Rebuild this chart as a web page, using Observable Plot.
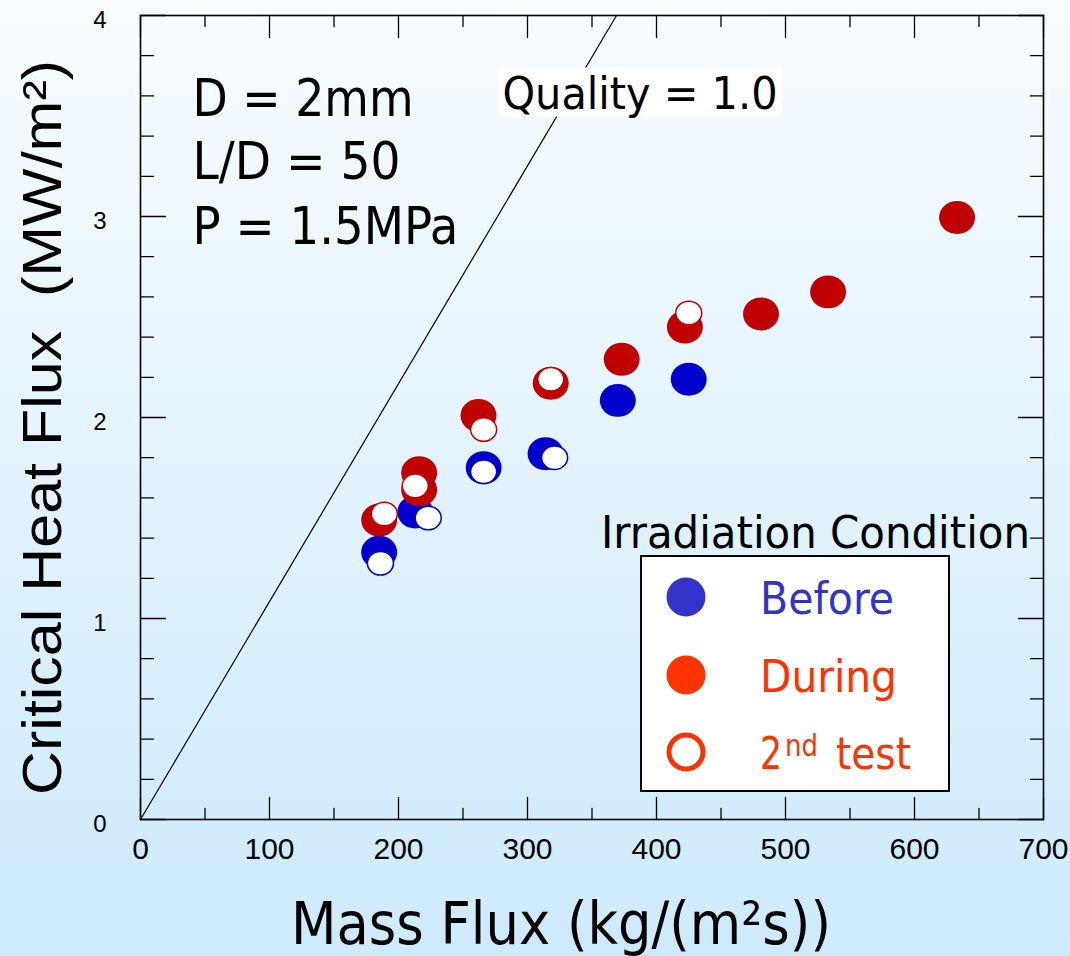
<!DOCTYPE html>
<html><head><meta charset="utf-8">
<script src="https://cdn.jsdelivr.net/npm/d3@7"></script>
<script src="https://cdn.jsdelivr.net/npm/@observablehq/plot@0.6"></script>
<style>
html,body{margin:0;padding:0;}
body{width:1070px;height:956px;background:linear-gradient(to bottom,#f8fcff 0%,#cdeafc 100%);overflow:hidden;}
#chart{position:relative;width:1070px;height:956px;}
</style></head><body><div id="chart"></div>
<script>
// ---- data ----
const beforeMass = [185, 213, 266, 314, 370, 425];
const beforeCHF  = [1.33, 1.53, 1.75, 1.82, 2.085, 2.19];
const before2Mass = [186, 223, 266, 321];
const before2CHF  = [1.275, 1.50, 1.73, 1.80];
const duringMass = [185, 216, 216, 262, 318, 373, 422, 481, 533, 633];
const duringCHF  = [1.49, 1.725, 1.64, 2.01, 2.17, 2.29, 2.45, 2.515, 2.625, 2.995];
const during2Mass = [189, 213, 266, 318, 425];
const during2CHF  = [1.52, 1.66, 1.94, 2.19, 2.52];
const qualityMass = [0, 369];
const qualityCHF  = [0, 4];
const xTicks = [0, 100, 200, 300, 400, 500, 600, 700];
const yTicks = [0, 1, 2, 3, 4];
const annLines = ["D = 2mm", "L/D = 50", "P = 1.5MPa"];
const qualityLabel = "Quality = 1.0";
const xTitle = "Mass Flux (kg/(m\u00b2s))";
const yTitle = "Critical Heat Flux  (MW/m\u00b2)";
const legendTitle = "Irradiation Condition";
const legendItems = ["Before", "During", "2nd test"];

// ---- style ----
const cBefore = "#0000cc", cDuring = "#c00000";
const lgBefore = "#3333cc", lgDuring = "#ff3300";
const tahoma = "'DejaVu Sans Condensed','DejaVu Sans',sans-serif";
const arial = "'Liberation Sans',Arial,sans-serif";
const narrow = "'Liberation Sans Narrow','Liberation Sans',Arial,sans-serif";

const ellipse = (ax) => ({draw(ctx, size){
  const r = Math.sqrt(size/Math.PI), rx = r*ax, ry = r/ax, k = 0.5523;
  ctx.moveTo(rx,0);
  ctx.bezierCurveTo(rx,k*ry,k*rx,ry,0,ry);
  ctx.bezierCurveTo(-k*rx,ry,-rx,k*ry,-rx,0);
  ctx.bezierCurveTo(-rx,-k*ry,-k*rx,-ry,0,-ry);
  ctx.bezierCurveTo(k*rx,-ry,rx,-k*ry,rx,0);
  ctx.closePath();
}});
const tickShape = {draw(ctx, l){ ctx.moveTo(0,0); ctx.lineTo(0,-l); }};

const xMinor = d3.range(50, 700, 100);
const yMinor = d3.range(0, 4.001, 0.2).filter(v => Math.abs(v - Math.round(v)) > 1e-6);

const tk = {anchor:"start", shape: tickShape, stroke:"black", strokeWidth:1.3};
const ticks = [
  Plot.vectorX(xTicks, {...tk, frameAnchor:"bottom", length:22, rotate:0}),
  Plot.vectorX(xMinor, {...tk, frameAnchor:"bottom", length:11, rotate:0}),
  Plot.vectorX(xTicks, {...tk, frameAnchor:"top", length:22, rotate:180}),
  Plot.vectorX(xMinor, {...tk, frameAnchor:"top", length:11, rotate:180}),
  Plot.vectorY(yTicks, {...tk, frameAnchor:"left", length:25, rotate:90}),
  Plot.vectorY(yMinor, {...tk, frameAnchor:"left", length:13, rotate:90}),
  Plot.vectorY(yTicks, {...tk, frameAnchor:"right", length:25, rotate:-90}),
  Plot.vectorY(yMinor, {...tk, frameAnchor:"right", length:13, rotate:-90})
];

const annMarks = annLines.map((t, i) => Plot.text([t], {
  text: d => d, frameAnchor:"top-left", dx:52, dy:100 + [0,63,128][i],
  textAnchor:"start", lineAnchor:"bottom", fontSize:51, fontFamily:tahoma, fill:"black"
}));

const plot = Plot.plot({
  width: 1070, height: 956,
  marginLeft: 140, marginRight: 27, marginTop: 15, marginBottom: 137,
  style: {background: "transparent", overflow: "visible"},
  x: {domain: [0, 700]},
  y: {domain: [0, 4]},
  marks: [
    Plot.line(qualityMass, {x: qualityMass, y: qualityCHF, stroke:"black", strokeWidth:1.2}),
    Plot.text([qualityLabel], {text: d => d, frameAnchor:"top-left", dx:362, dy:93,
      textAnchor:"start", lineAnchor:"bottom", fontSize:45, fontFamily:tahoma, fill:"black"}),
    ...annMarks,
    Plot.dot(beforeMass, {x: beforeMass, y: beforeCHF, r:17.2, symbol: ellipse(1.045), fill: cBefore}),
    Plot.dot(duringMass, {x: duringMass, y: duringCHF, r:17.2, symbol: ellipse(1.045), fill: cDuring}),
    Plot.dot(before2Mass, {x: before2Mass, y: before2CHF, r:12.4, symbol: ellipse(1.05), fill:"white", stroke: cBefore, strokeWidth:1.5}),
    Plot.dot(during2Mass, {x: during2Mass, y: during2CHF, r:12.4, symbol: ellipse(1.05), fill:"white", stroke: cDuring, strokeWidth:1.5}),
    Plot.frame({stroke:"black", strokeWidth:1.6}),
    ...ticks,
    Plot.axisX(xTicks, {anchor:"bottom", tickSize:0, tickPadding:18, fontSize:30, fontFamily:arial, fill:"black", label:null, tickFormat: d3.format("d")}),
    Plot.axisY(yTicks, {anchor:"left", tickSize:0, tickPadding:34, fontSize:24, fontFamily:arial, fill:"black", dy:5, label:null, tickFormat: d3.format("d")}),
    Plot.text([yTitle], {text: d => d, frameAnchor:"left", dx:-80, dy:10, rotate:-90,
      textAnchor:"middle", lineAnchor:"bottom", fontSize:55, fontFamily:narrow, fill:"black"}),
    Plot.text([xTitle], {text: d => d, frameAnchor:"bottom", dx:-31, dy:124,
      textAnchor:"middle", lineAnchor:"bottom", fontSize:59, fontFamily:tahoma, fill:"black"})
  ]
});
document.getElementById("chart").appendChild(plot);

const svg = d3.select(plot);
// fit a text element's drawn length to a target, correcting iteratively
function fitNode(node, len){
  if (!node) return;
  const s = d3.select(node).style("white-space", "pre").attr("lengthAdjust", "spacingAndGlyphs").attr("textLength", len);
  for (let k = 0; k < 3; k++) {
    const w = node.getBBox().width;
    if (!w || Math.abs(w - len) < 0.5) break;
    const cur = +s.attr("textLength");
    s.attr("textLength", cur * len / w);
  }
}
const findText = (content) => svg.selectAll("text").filter(function(){ return this.textContent === content; }).node();
function fit(content, len){ fitNode(findText(content), len); }
fit(annLines[0], 221); fit(annLines[1], 208); fit(annLines[2], 266);
fit(qualityLabel, 275); fit(yTitle, 735); fit(xTitle, 540);

// white box behind "Quality = 1.0"
const qNode = findText(qualityLabel);
if (qNode) {
  const bb = qNode.getBBox();
  const tr = qNode.getAttribute("transform");
  d3.select(qNode.parentNode).insert("rect", "text").attr("transform", tr)
    .attr("x", bb.x - 4).attr("y", bb.y + 1).attr("width", bb.width + 8).attr("height", bb.height - 4)
    .attr("fill", "white").attr("stroke", "none");
}

// legend
const lg = svg.append("g").attr("class", "legend").attr("text-anchor", "start");
const lt = (x, y, t, fs, col, len) => {
  const n = lg.append("text").attr("x", x).attr("y", y).text(t)
    .attr("font-size", fs).attr("font-family", tahoma).attr("fill", col).attr("text-anchor", "start");
  fitNode(n.node(), len);
  return n;
};
lt(601, 548, legendTitle, 45, "black", 429);
lg.append("rect").attr("x", 641).attr("y", 556).attr("width", 308).attr("height", 235)
  .attr("fill", "white").attr("stroke", "black").attr("stroke-width", 2);
const rowY = [597, 675, 752];
lg.append("circle").attr("cx", 686).attr("cy", rowY[0]).attr("r", 19.5).attr("fill", lgBefore);
lg.append("circle").attr("cx", 686).attr("cy", rowY[1]).attr("r", 19.5).attr("fill", lgDuring);
lg.append("circle").attr("cx", 686).attr("cy", rowY[2]).attr("r", 17).attr("fill", "white").attr("stroke", lgDuring).attr("stroke-width", 5);
lt(760, 614, legendItems[0], 45, lgBefore, 134);
lt(760, 692, legendItems[1], 45, lgDuring, 137);
const sup0 = legendItems[2].slice(0, 1), supRest = legendItems[2].slice(1).split(" ");
lt(760, 769, sup0, 45, lgDuring, 22);
lt(785, 756, supRest[0], 30, lgDuring, 33);
lt(836, 769, supRest[1], 45, lgDuring, 75);
</script></body></html>
